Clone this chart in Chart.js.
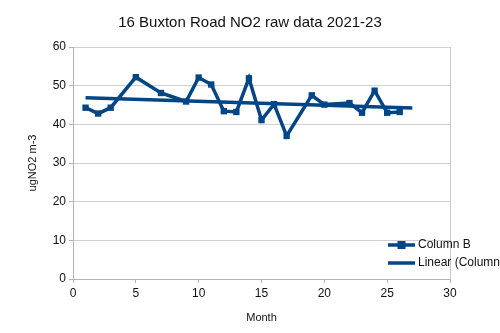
<!DOCTYPE html>
<html>
<head>
<meta charset="utf-8">
<script src="https://cdn.jsdelivr.net/npm/chart.js@4"></script>
<style>
  html, body { margin: 0; padding: 0; background: #fff; }
  #wrap { width: 500px; height: 333px; }
</style>
</head>
<body>
<div id="wrap"><canvas id="no2Chart"></canvas></div>
<script>
// monthly readings, x = month number, y = ugNO2 m-3
var months = [1, 2, 3, 5, 7, 9, 10, 11, 12, 13, 14, 15, 16, 17, 19, 20, 22, 23, 24, 25, 26];
var readings = [44.3, 42.8, 44.3, 52.2, 48.1, 45.9, 52.1, 50.3, 43.4, 43.2, 51.9, 41.1, 45.2, 37.0, 47.5, 45.1, 45.5, 43.0, 48.7, 43.0, 43.2];
// trend line end points
var trendX = [1, 27];
var trendY = [46.9, 44.2];
var chartTitle = '16 Buxton Road NO2 raw data 2021-23';

var blue = '#004586';
var font = "'Liberation Sans', Arial, sans-serif";

function pts(xs, ys) {
  let out = [];
  for (let i = 0; i < xs.length; i++) {
    out.push({x: xs[i], y: ys[i]});
  }
  return out;
}

// title centred on the whole canvas, legend over the bottom right of the plot
var extras = {
  id: 'extras',
  afterDraw(chart) {
    const c = chart.ctx;
    const sets = chart.data.datasets;
    c.save();
    c.fillStyle = '#111';
    c.font = '15px ' + font;
    c.textAlign = 'center';
    c.textBaseline = 'middle';
    c.fillText(chartTitle, chart.width / 2, 23);

    const x0 = 388, x1 = 415;
    let y = 245;
    c.font = '12px ' + font;
    c.textAlign = 'left';
    for (let i = 0; i < sets.length; i++) {
      c.strokeStyle = sets[i].borderColor;
      c.lineWidth = 3.5;
      c.beginPath();
      c.moveTo(x0, y);
      c.lineTo(x1, y);
      c.stroke();
      if (sets[i].pointRadius > 0) {
        c.fillStyle = sets[i].borderColor;
        c.fillRect((x0 + x1) / 2 - 4, y - 4, 8, 8);
      }
      c.fillStyle = '#111';
      c.fillText(sets[i].label, x1 + 3, y);
      y += 18;
    }
    c.restore();
  }
};

const ctx = document.getElementById('no2Chart').getContext('2d');
var no2Chart = new Chart(ctx, {
  type: 'scatter',
  data: {
    datasets: [{
      label: 'Column B',
      data: pts(months, readings),
      showLine: true,
      borderColor: blue,
      backgroundColor: blue,
      borderWidth: 3.5,
      pointStyle: 'rect',
      pointRadius: 4.5,
      pointHoverRadius: 4.5,
      pointBorderWidth: 0
    }, {
      label: 'Linear (Column B)',
      data: pts(trendX, trendY),
      showLine: true,
      borderColor: blue,
      backgroundColor: blue,
      borderWidth: 3.5,
      pointRadius: 0
    }]
  },
  options: {
    responsive: true,
    maintainAspectRatio: false,
    animation: false,
    layout: { padding: { left: 0, right: 50, top: 47, bottom: 0 } },
    plugins: {
      legend: { display: false },
      tooltip: { enabled: false },
      title: { display: false }
    },
    scales: {
      x: {
        type: 'linear',
        min: 0,
        max: 30,
        ticks: { stepSize: 5, color: '#111', font: { family: font, size: 12 }, padding: 3 },
        grid: {
          color: c => c.tick && c.tick.value === 30 ? '#c8c8c8' : 'rgba(0,0,0,0)',
          tickColor: '#b3b3b3',
          tickLength: 4
        },
        border: { color: '#b3b3b3' },
        title: {
          display: true,
          text: 'Month',
          color: '#111',
          font: { family: font, size: 11 },
          padding: { top: 8, bottom: 8 }
        },
        afterFit: s => { s.height = 54; }
      },
      y: {
        min: 0,
        max: 60,
        ticks: { stepSize: 10, color: '#111', font: { family: font, size: 12 }, padding: 3 },
        grid: { color: '#d0d0d0', tickColor: '#b3b3b3', tickLength: 4 },
        border: { color: '#b3b3b3' },
        title: {
          display: true,
          text: 'ugNO2 m-3',
          color: '#111',
          font: { family: font, size: 11 },
          padding: { top: 26, bottom: 0 }
        },
        afterFit: s => { s.width = 73; }
      }
    }
  },
  plugins: [extras]
});
</script>
</body>
</html>
